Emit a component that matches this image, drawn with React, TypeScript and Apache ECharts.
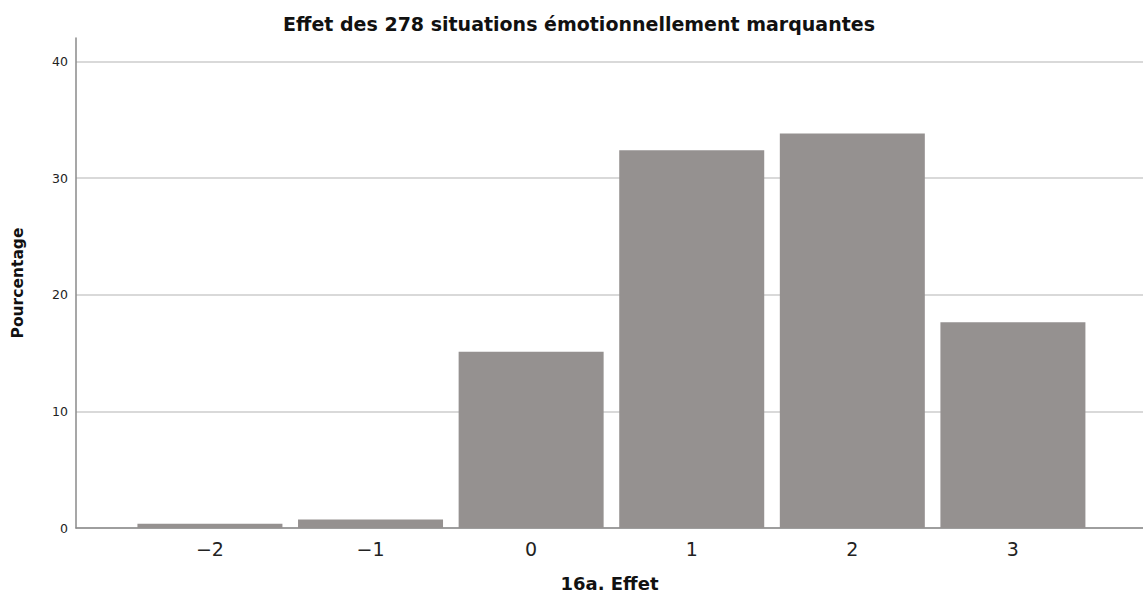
import React, { useEffect, useRef } from "react";
import * as echarts from "echarts";

const categories = [-2, -1, 0, 1, 2, 3];
const percentages = [0.36, 0.72, 15.11, 32.37, 33.81, 17.63];
const yTicks = [0, 10, 20, 30, 40];
const titleText = "Effet des 278 situations émotionnellement marquantes";
const xName = "16a. Effet";
const yName = "Pourcentage";

export default function App() {
  const ref = useRef<HTMLDivElement>(null);
  useEffect(() => {
    if (!ref.current) return;
    const chart = echarts.init(ref.current, null, { renderer: "svg" });
    const font = "DejaVu Sans";
    chart.setOption({
      animation: false,
      backgroundColor: "#ffffff",
      textStyle: { fontFamily: font },
      title: {
        text: titleText,
        left: 574,
        textAlign: "center",
        top: 9,
        textStyle: { fontSize: 19, fontWeight: "bold", color: "#111", fontFamily: font },
      },
      grid: { left: 76, right: 0, top: 38, bottom: 68 },
      xAxis: {
        type: "value",
        min: -2.834,
        max: 3.81,
        splitLine: { show: false },
        axisTick: { show: false },
        axisLine: { show: true, onZero: false, lineStyle: { color: "#8a8a8a", width: 1.5 } },
        axisLabel: {
          customValues: categories,
          formatter: (v: number) => String(v).replace("-", "\u2212"),
          fontSize: 19,
          color: "#222",
          margin: 11,
          fontFamily: font,
        },
        name: xName,
        nameLocation: "middle",
        nameGap: 46,
        nameTextStyle: { fontSize: 18, fontWeight: "bold", color: "#111", fontFamily: font },
      },
      yAxis: {
        type: "value",
        min: 0,
        max: 42,
        interval: 10,
        axisLine: { show: true, onZero: false, lineStyle: { color: "#8a8a8a", width: 1.5 } },
        axisTick: { show: false },
        axisLabel: {
          showMaxLabel: false,
          formatter: (v: number) => (yTicks.includes(v) ? String(v) : ""),
          fontSize: 12.5,
          color: "#222",
          margin: 8,
          fontFamily: font,
        },
        splitLine: { show: true, showMaxLine: false, lineStyle: { color: "#cccccc", width: 1.5 } },
        name: yName,
        nameLocation: "middle",
        nameGap: 50,
        nameTextStyle: { fontSize: 15.5, fontWeight: "bold", color: "#111", fontFamily: font },
      },
      series: [
        {
          type: "bar",
          data: categories.map((c, i) => [c, percentages[i]]),
          barWidth: 145,
          itemStyle: { color: "#959190" },
        },
      ],
    });
    return () => chart.dispose();
  }, []);
  return <div ref={ref} style={{ width: 1143, height: 597, position: "absolute", left: 0, top: 0 }} />;
}
